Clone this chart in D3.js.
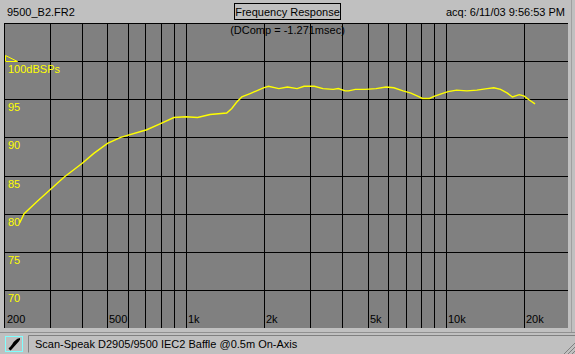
<!DOCTYPE html>
<html>
<head>
<meta charset="utf-8">
<script src="https://cdn.jsdelivr.net/npm/d3@7"></script>
<style>
  body { margin: 0; background: #c0c0c0; }
  svg { display: block; font-family: "Liberation Sans", Arial, sans-serif; }
</style>
</head>
<body>
<div id="container"></div>
<script>
// response curve
const freq = [230, 239, 268, 300, 341, 400, 443, 500, 562, 708, 800, 900, 1000, 1110, 1240, 1437,
  1503, 1568, 1642, 1768, 1900, 1990, 2080, 2280, 2460, 2680, 2850, 3120, 3370, 3690, 3860,
  4100, 4230, 4490, 4910, 5390, 5890, 6310, 6850, 7340, 7790, 8130, 8650, 9060, 9600, 10200,
  11000, 12050, 13170, 14420, 15300, 16240, 17250, 18040, 19160, 20030, 20940, 22030];
const spl = [78.8, 80.0, 81.6, 83.1, 84.8, 86.6, 87.9, 89.2, 90.0, 91.0, 91.8, 92.6, 92.7, 92.6, 93.0, 93.2,
  93.8, 94.6, 95.3, 95.75, 96.2, 96.5, 96.7, 96.4, 96.6, 96.4, 96.7, 96.7, 96.4, 96.3, 96.4,
  96.1, 96.1, 96.3, 96.3, 96.4, 96.6, 96.5, 96.1, 95.8, 95.4, 95.1, 95.1, 95.4, 95.7, 96.0,
  96.2, 96.1, 96.2, 96.4, 96.5, 96.3, 95.8, 95.3, 95.6, 95.4, 94.9, 94.4];

const xGrid = [200, 300, 400, 500, 600, 700, 800, 900, 1000, 2000, 3000, 4000, 5000, 6000, 7000, 8000, 9000, 10000, 20000];
const xLabels = [[200, '200'], [500, '500'], [1000, '1k'], [2000, '2k'], [5000, '5k'], [10000, '10k'], [20000, '20k']];
const yTicks = [100, 95, 90, 85, 80, 75, 70];
const yLabels = ['100dBSPs', '95', '90', '85', '80', '75', '70'];

const WIDTH = 575;
const HEIGHT = 354;
const pLeft = 4, pRight = 568, pTop = 23, pBottom = 328;

let svg = d3.select('#container').append('svg').attr('width', WIDTH).attr('height', HEIGHT);

let x = d3.scaleLog().domain([200, 29500]).range([pLeft, pRight]);
let y = d3.scaleLinear().domain([65, 105]).range([pBottom, pTop]);

// window frame
svg.append('rect').attr('width', WIDTH).attr('height', HEIGHT).attr('fill', '#c0c0c0');
svg.append('line').attr('x1', 571.5).attr('x2', 571.5).attr('y1', 0).attr('y2', 332)
  .attr('stroke', '#a0a0a0');
svg.append('line').attr('x1', 0).attr('x2', WIDTH).attr('y1', 332.5).attr('y2', 332.5)
  .attr('stroke', '#909090');

svg.append('text').attr('x', 7).attr('y', 16).attr('font-size', 11).text('9500_B2.FR2');
svg.append('text').attr('x', 565).attr('y', 16).attr('font-size', 11).attr('text-anchor', 'end')
  .text('acq: 6/11/03 9:56:53 PM');
svg.append('rect').attr('x', 234.5).attr('y', 3.5).attr('width', 106).attr('height', 16)
  .attr('fill', 'none').attr('stroke', '#000');
svg.append('text').attr('x', 287.5).attr('y', 16).attr('font-size', 11).attr('text-anchor', 'middle')
  .text('Frequency Response');

// plot area
svg.append('rect').attr('x', pLeft).attr('y', pTop).attr('width', pRight - pLeft).attr('height', pBottom - pTop)
  .attr('fill', '#808080');

svg.append('text').attr('x', 287.5).attr('y', 34).attr('font-size', 11).attr('text-anchor', 'middle')
  .text('(DComp = -1.271msec)');

let grid = svg.append('g').attr('stroke', '#000').attr('shape-rendering', 'crispEdges');
grid.selectAll('.vx').data(xGrid).join('line')
  .attr('x1', (d) => Math.round(x(d)) + 0.5).attr('x2', (d) => Math.round(x(d)) + 0.5)
  .attr('y1', pTop).attr('y2', pBottom);
grid.selectAll('.hy').data([105].concat(yTicks)).join('line')
  .attr('x1', pLeft).attr('x2', pRight)
  .attr('y1', (d) => Math.round(y(d)) + 0.5).attr('y2', (d) => Math.round(y(d)) + 0.5);

// y labels
svg.append('g').attr('fill', '#ffff00').attr('font-size', 11)
  .selectAll('text').data(yTicks).join('text')
  .attr('x', 8).attr('y', (d) => Math.round(y(d)) + 12)
  .text((d, i) => yLabels[i]);

// reference level marker
svg.append('path').attr('d', 'M5.5,55.5 L5.5,61.5 L17.5,61.5 Z').attr('fill', 'none').attr('stroke', '#ffff00');

// x labels
svg.append('g').attr('font-size', 11)
  .selectAll('text').data(xLabels).join('text')
  .attr('x', (d) => Math.round(x(d[0])) + (d[0] === 200 ? 3 : 2)).attr('y', 323)
  .text((d) => d[1]);

// curve
let line = d3.line().x((d, i) => x(freq[i])).y((d) => y(d));
svg.append('path').datum(spl).attr('d', line).attr('fill', 'none')
  .attr('stroke', '#ffff00').attr('stroke-width', 1.4);

// status bar
svg.append('rect').attr('x', 5.5).attr('y', 336.5).attr('width', 17).attr('height', 15)
  .attr('fill', '#c0c0c0').attr('stroke', '#80ffff');
svg.append('path').attr('d', 'M9,349 C12,347 13,344 15,342 C17,340 18,339 20,339 M10,350 L19,340')
  .attr('stroke', '#000').attr('stroke-width', 1.8).attr('fill', 'none');
svg.append('path').attr('d', 'M28.5,352.5 L28.5,335.5 L575,335.5').attr('fill', 'none').attr('stroke', '#808080');
svg.append('text').attr('x', 35).attr('y', 348).attr('font-size', 11)
  .text('Scan-Speak D2905/9500 IEC2 Baffle @0.5m On-Axis');

// resize grip
svg.append('g').attr('stroke', '#808080').selectAll('line').data([0, 4, 8]).join('line')
  .attr('x1', (d) => 564 + d).attr('y1', 354).attr('x2', 575).attr('y2', (d) => 343 + d);
</script>
</body>
</html>
